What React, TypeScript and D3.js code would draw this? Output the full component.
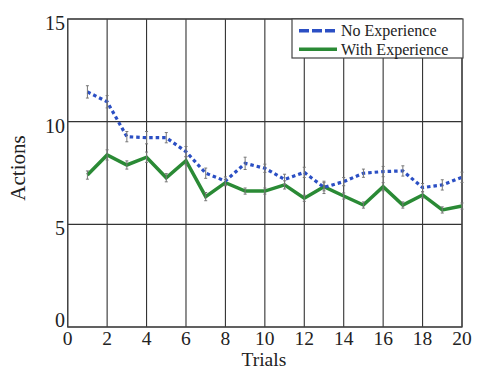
import React from "react";
import * as d3 from "d3";

const trials = [1, 2, 3, 4, 5, 6, 7, 8, 9, 10, 11, 12, 13, 14, 15, 16, 17, 18, 19, 20];
const noExperience = [11.45, 10.97, 9.27, 9.22, 9.22, 8.54, 7.49, 7.11, 7.97, 7.73, 7.19, 7.53, 6.8, 7.08, 7.49, 7.57, 7.6, 6.79, 6.92, 7.29];
const noExperienceErr = [0.3, 0.3, 0.25, 0.3, 0.25, 0.25, 0.25, 0.2, 0.3, 0.2, 0.25, 0.25, 0.3, 0.2, 0.2, 0.25, 0.25, 0.2, 0.25, 0.25];
const withExperience = [7.4, 8.38, 7.89, 8.27, 7.27, 8.1, 6.35, 7.03, 6.62, 6.62, 6.92, 6.27, 6.83, 6.38, 5.94, 6.83, 5.94, 6.43, 5.7, 5.89];
const withExperienceErr = [0.2, 0.25, 0.2, 0.25, 0.2, 0.2, 0.2, 0.15, 0.15, 0.15, 0.2, 0.15, 0.2, 0.15, 0.15, 0.2, 0.15, 0.15, 0.15, 0.15];
const xTicks = [0, 2, 4, 6, 8, 10, 12, 14, 16, 18, 20];
const yTicks = [0, 5, 10, 15];
const seriesNames = ["No Experience", "With Experience"];

const W = 478;
const H = 370;
const M = { left: 67.7, right: 462, top: 19, bottom: 327 };
const FONT = "'Liberation Serif', serif";
const BLUE = "#2b4fc4";
const GREEN = "#2a8a35";

export default function App() {
  const x = d3.scaleLinear().domain([0, 20]).range([M.left, M.right]);
  const y = d3.scaleLinear().domain([0, 15]).range([M.bottom, M.top]);
  const line = d3
    .line<number>()
    .x((_, i) => x(trials[i]))
    .y((d) => y(d));

  const errBars = (vals: number[], errs: number[], key: string) =>
    vals.map((v, i) => {
      const cx = x(trials[i]);
      const y1 = y(v + errs[i]);
      const y2 = y(v - errs[i]);
      return (
        <g key={key + i} stroke="#777" strokeWidth={1}>
          <line x1={cx} x2={cx} y1={y1} y2={y2} />
          <line x1={cx - 1.5} x2={cx + 1.5} y1={y1} y2={y1} />
          <line x1={cx - 1.5} x2={cx + 1.5} y1={y2} y2={y2} />
        </g>
      );
    });

  const yLabelDy = (t: number) => (t === 0 ? 0 : 11);

  return (
    <svg width={W} height={H} style={{ position: "absolute", left: 0, top: 0, background: "#fff" }}>
      <rect x={0} y={0} width={W} height={H} fill="#fff" />
      {xTicks.map((t) => (
        <line key={"gx" + t} x1={x(t)} x2={x(t)} y1={M.top} y2={M.bottom} stroke="#333" strokeWidth={1.1} />
      ))}
      {yTicks.map((t) => (
        <line key={"gy" + t} x1={M.left} x2={M.right} y1={y(t)} y2={y(t)} stroke="#333" strokeWidth={1.1} />
      ))}
      <rect x={M.left} y={M.top} width={M.right - M.left} height={M.bottom - M.top} fill="none" stroke="#444" strokeWidth={1.3} />

      <path d={line(withExperience) || ""} fill="none" stroke={GREEN} strokeWidth={3.5} strokeLinejoin="miter" />
      <path d={line(noExperience) || ""} fill="none" stroke={BLUE} strokeWidth={3.2} strokeDasharray="3.5,3" />
      {errBars(withExperience, withExperienceErr, "we")}
      {errBars(noExperience, noExperienceErr, "ne")}

      {xTicks.map((t) => (
        <text key={"tx" + t} x={x(t)} y={345} fontFamily={FONT} fontSize={19.5} textAnchor="middle" fill="#222">
          {t}
        </text>
      ))}
      {yTicks.map((t) => (
        <text key={"ty" + t} x={65} y={y(t) + yLabelDy(t)} fontFamily={FONT} fontSize={20} textAnchor="end" fill="#222">
          {t}
        </text>
      ))}

      <text x={(M.left + M.right) / 2 - 1} y={366} fontFamily={FONT} fontSize={19.5} textAnchor="middle" fill="#222">
        Trials
      </text>
      <text
        transform={`translate(25, 168) rotate(-90)`}
        fontFamily={FONT}
        fontSize={21}
        textAnchor="middle"
        fill="#222"
      >
        Actions
      </text>

      <rect x={292} y={M.top} width={171} height={39} fill="#fff" stroke="#444" strokeWidth={1.2} />
      <line x1={299} x2={337} y1={30.7} y2={30.7} stroke={BLUE} strokeWidth={3.5} strokeDasharray="10,3" />
      <line x1={299} x2={337} y1={49.3} y2={49.3} stroke={GREEN} strokeWidth={3.5} />
      <text x={341} y={36} fontFamily={FONT} fontSize={16} fill="#222">
        {seriesNames[0]}
      </text>
      <text x={341} y={54.5} fontFamily={FONT} fontSize={16} fill="#222">
        {seriesNames[1]}
      </text>
    </svg>
  );
}
